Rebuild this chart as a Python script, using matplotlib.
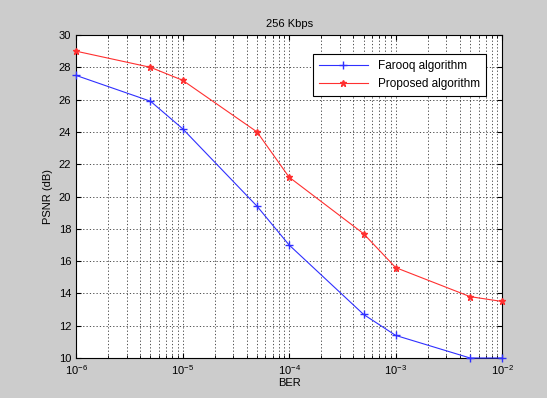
import matplotlib.pyplot as plt
from matplotlib.ticker import LogLocator, NullFormatter

# --- Data ---
ber = [1e-6, 5e-6, 1e-5, 5e-5, 1e-4, 5e-4, 1e-3, 5e-3, 1e-2]
psnr_farooq = [27.5, 25.9, 24.2, 19.4, 17.0, 12.7, 11.4, 10.0, 10.0]
psnr_proposed = [29.0, 28.0, 27.2, 24.0, 21.2, 17.7, 15.6, 13.8, 13.5]
y_ticks = [10, 12, 14, 16, 18, 20, 22, 24, 26, 28, 30]

plt.rcParams['font.family'] = ['Liberation Sans', 'DejaVu Sans']
plt.rcParams['font.size'] = 8

fig = plt.figure(figsize=(5.47, 3.98), dpi=100, facecolor='#cccccc')
ax = fig.add_axes([0.139, 0.1005, 0.779, 0.8115])
ax.set_facecolor('white')

ax.plot(ber, psnr_farooq, color='#3030ff', marker='+', markersize=6,
        linewidth=0.8, label='Farooq algorithm', clip_on=False, zorder=3)
ax.plot(ber, psnr_proposed, color='#ff3030', marker='*', markersize=5,
        linewidth=0.8, label='Proposed algorithm', clip_on=False, zorder=3)

ax.set_xscale('log')
ax.set_xlim(1e-6, 1e-2)
ax.set_ylim(10, 30)
ax.set_yticks(y_ticks)
ax.xaxis.set_minor_locator(LogLocator(base=10, subs=range(2, 10)))
ax.xaxis.set_minor_formatter(NullFormatter())

ax.grid(True, which='major', linestyle=(0, (1.5, 2.5)), color='#333333', linewidth=0.6)
ax.grid(True, which='minor', axis='x', linestyle=(0, (1.5, 2.5)), color='#333333', linewidth=0.6)
ax.tick_params(which='both', direction='in', top=True, right=True)
for s in ax.spines.values():
    s.set_linewidth(0.8)

ax.set_title('256 Kbps', fontsize=8)
ax.set_xlabel('BER', labelpad=1)
ax.set_ylabel('PSNR (dB)')

leg = ax.legend(loc='upper right', bbox_to_anchor=(0.975, 0.96), fancybox=False,
                edgecolor='black', framealpha=1, borderpad=0.5, handlelength=4.2,
                fontsize=8.5)
leg.get_frame().set_linewidth(0.8)

plt.savefig('out.png', dpi=100, facecolor=fig.get_facecolor())
